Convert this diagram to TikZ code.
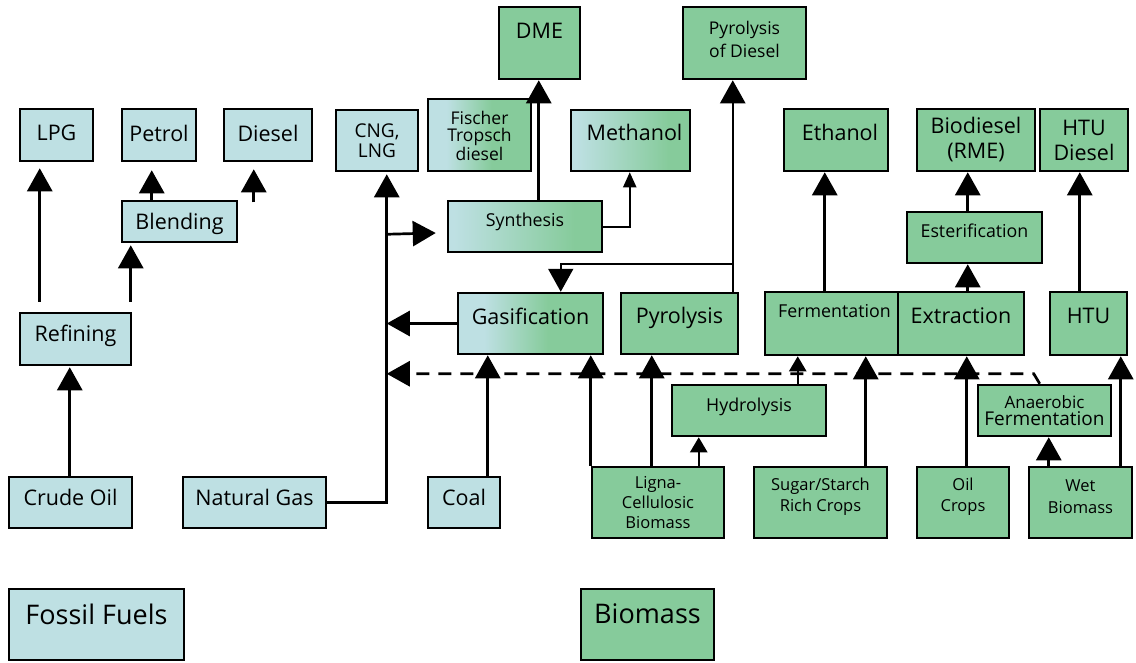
\documentclass[tikz,border=0pt]{standalone}
\usepackage{fontspec}
\setmainfont{Open Sans}
\usetikzlibrary{arrows.meta,calc,fit}
\definecolor{fbl}{HTML}{BEE0E3}
\definecolor{bgr}{HTML}{86CB9B}
\pgfdeclarehorizontalshading{gradA}{100bp}{color(0bp)=(fbl); color(34bp)=(fbl); color(56bp)=(bgr); color(100bp)=(bgr)}
\pgfdeclarehorizontalshading{gradB}{100bp}{color(0bp)=(fbl); color(27bp)=(fbl); color(66bp)=(bgr); color(100bp)=(bgr)}
\newcommand\bx[8]{%
  \node[#2,fit={(#3,#4)(#5,#6)}] (#1) {};
  \node[lbl,#7] (#1-t) at (#1.center) {#8};}
\tikzset{
  box/.style={draw=black, line width=2.5pt, inner sep=0pt},
  fos/.style={box, fill=fbl},
  bio/.style={box, fill=bgr},
  mixA/.style={box, shade, shading=gradA},
  mixB/.style={box, shade, shading=gradB},
  lbl/.style={inner sep=0pt, align=center, text=black},
  fN/.style={font=\fontsize{21.5}{24}\selectfont},
  fD/.style={font=\fontsize{21.5}{25}\selectfont},
  fC/.style={font=\fontsize{19}{20}\selectfont},
  fF/.style={font=\fontsize{17.5}{17}\selectfont},
  fP/.style={font=\fontsize{17.5}{23}\selectfont},
  fM/.style={font=\fontsize{17.8}{20}\selectfont},
  fS/.style={font=\fontsize{16.5}{21.5}\selectfont},
  fL/.style={font=\fontsize{16.5}{20}\selectfont},
  fA/.style={font=\fontsize{19}{17}\selectfont},
  fB/.style={font=\fontsize{27}{30}\selectfont},
  arr/.style={line width=2.7pt, -{Triangle[width=25pt,length=23pt]}},
  sarr/.style={line width=2.4pt, -{Triangle[width=17pt,length=15pt]}},
  tarr/.style={line width=2pt, -{Triangle[width=13pt,length=15pt]}},
  marr/.style={line width=2.3pt, -{Triangle[width=25pt,length=23pt]}},
  darr/.style={arr, dash pattern=on 13pt off 9pt},
}
\begin{document}
\begin{tikzpicture}[x=1pt,y=-1pt]
\useasboundingbox (0,0) rectangle (1136,662);
% boxes
\bx{lpg}{fos}{20}{109}{93}{161}{fN,yshift=2pt}{LPG}
\bx{petrol}{fos}{122}{109}{196}{161}{fN,yshift=2pt}{Petrol}
\bx{diesel}{fos}{224}{109}{312}{161}{fN,yshift=2pt}{Diesel}
\bx{cng}{fos}{336}{110}{418}{171}{fC}{CNG,\\LNG}
\bx{fischer}{mixA}{428}{99}{531}{171}{fF,yshift=-1pt}{Fischer\\Tropsch\\diesel}
\bx{dme}{bio}{499}{7}{580}{79}{fN,yshift=12pt}{DME}
\bx{pdiesel}{bio}{683}{7}{806}{79}{fP,yshift=4pt}{Pyrolysis\\of Diesel}
\bx{methanol}{mixB}{571}{110}{690}{171}{fN,yshift=8pt,xshift=4pt}{Methanol}
\bx{blending}{fos}{122}{201}{237}{242}{fN,yshift=-2pt}{Blending}
\bx{synthesis}{mixB}{448}{201}{602}{252}{fM,yshift=5pt}{Synthesis}
\bx{ethanol}{bio}{784}{109}{888}{171}{fN,yshift=8pt,xshift=4pt}{Ethanol}
\bx{biodiesel}{bio}{917}{109}{1035}{171}{fD}{Biodiesel\\(RME)}
\bx{htudiesel}{bio}{1040}{109}{1128}{171}{fD}{HTU\\Diesel}
\bx{ester}{bio}{907}{212}{1042}{263}{fM,yshift=7pt}{Esterification}
\bx{refining}{fos}{20}{313}{131}{365}{fN,yshift=3pt}{Refining}
\bx{gasif}{mixA}{458}{293}{603}{354}{fN,yshift=7pt}{Gasification}
\bx{pyrolysis}{bio}{621}{293}{738}{354}{fN,yshift=6pt}{Pyrolysis}
\bx{ferment}{bio}{765}{292}{898}{355}{fM,yshift=12pt,xshift=3pt}{Fermentation}
\bx{extract}{bio}{898}{292}{1024}{355}{fN,yshift=8pt}{Extraction}
\bx{htu}{bio}{1050}{292}{1127}{355}{fN,yshift=8pt}{HTU}
\bx{hydro}{bio}{672}{385}{826}{436}{fM,yshift=4pt}{Hydrolysis}
\bx{anaer}{bio}{978}{385}{1111}{436}{fA}{{\fontsize{17}{17}\selectfont Anaerobic}\\Fermentation}
\bx{crude}{fos}{9}{477}{132}{528}{fN,yshift=5pt}{Crude Oil}
\bx{natgas}{fos}{183}{477}{326}{528}{fN,yshift=5pt}{Natural Gas}
\bx{coal}{fos}{428}{477}{500}{528}{fN,yshift=5pt}{Coal}
\bx{ligna}{bio}{592}{467}{724}{538}{fL}{Ligna-\\Cellulosic\\Biomass}
\bx{sugar}{bio}{754}{467}{887}{538}{fS,yshift=6pt}{Sugar/Starch\\Rich Crops}
\bx{oil}{bio}{917}{467}{1009}{538}{fS,yshift=6pt}{Oil\\Crops}
\bx{wet}{bio}{1029}{467}{1132}{538}{fS,yshift=6pt}{Wet\\Biomass}
\bx{fossil}{fos}{9}{589}{184}{660}{fB,yshift=10pt}{Fossil Fuels}
\bx{biomass}{bio}{581}{589}{714}{660}{fB,yshift=11pt}{Biomass}
% ports
\coordinate (trunk) at ($(cng.south west)+(52,0)$);
\coordinate (brS) at ($(trunk)+(0,62)$);
\coordinate (anS) at ($(anaer.north west)+(63,0)$);
\coordinate (anK) at ($(anaer.north west)+(57,-10)$);
\coordinate (rf1) at ($(refining.north west)+(21,-10)$);
\coordinate (rf2) at ($(refining.north west)+(112,-10)$);
\coordinate (bl1) at ($(blending.north west)+(31,0)$);
\coordinate (ds1) at ($(diesel.south west)+(31,40)$);
\coordinate (cr1) at ($(crude.north west)+(62,0)$);
\coordinate (co1) at ($(coal.north west)+(61,0)$);
\coordinate (lg2) at ($(ligna.north west)+(61,0)$);
\coordinate (lg3) at ($(ligna.north west)+(108,0)$);
\coordinate (hy1) at ($(hydro.north west)+(127,0)$);
\coordinate (su1) at ($(sugar.north west)+(113,0)$);
\coordinate (fe1) at ($(ferment.north west)+(61,0)$);
\coordinate (oi1) at ($(oil.north west)+(51,0)$);
\coordinate (ex1) at ($(extract.north west)+(71,0)$);
\coordinate (es1) at ($(ester.north west)+(62,0)$);
\coordinate (we1) at ($(wet.north west)+(21,0)$);
\coordinate (we2) at ($(wet.north west)+(93,0)$);
\coordinate (ht1) at ($(htu.north west)+(31,0)$);
\coordinate (sy1) at ($(synthesis.north west)+(92,0)$);
\coordinate (me1) at ($(methanol.south west)+(60,0)$);
\coordinate (py1) at ($(pyrolysis.north west)+(113,0)$);
\coordinate (py2) at ($(pyrolysis.north west)+(113,-28)$);
\coordinate (ga1) at ($(gasif.north west)+(104,0)$);
% connectors
\draw[arr, shorten >=2pt] (natgas.east) -| (trunk);
\draw[arr] (brS) -- ($(synthesis.west)+(-11,6.5)$);
\draw[arr] (gasif.west) -- (gasif.west -| trunk);
\draw[darr] (anS) -- (anK) -- (anK -| trunk);
\draw[arr, shorten >=6pt] (rf1) -- (rf1 |- lpg.south);
\draw[arr, shorten >=2pt] (rf2) -- (rf2 |- blending.south);
\draw[arr, shorten >=8pt] (bl1) -- (bl1 |- petrol.south);
\draw[arr, shorten >=7pt] (ds1) -- (ds1 |- diesel.south);
\draw[arr, shorten >=1pt] (cr1) -- (cr1 |- refining.south);
\draw[arr] (co1) -- (co1 |- gasif.south);
\draw[arr] (ligna.north west) -- (ligna.north west |- gasif.south);
\draw[arr] (lg2) -- (lg2 |- pyrolysis.south);
\draw[sarr] (lg3) -- (lg3 |- hydro.south);
\draw[sarr] (hy1) -- (hy1 |- ferment.south);
\draw[arr] (su1) -- (su1 |- ferment.south);
\draw[arr] (fe1) -- (fe1 |- ethanol.south);
\draw[arr] (oi1) -- (oi1 |- extract.south);
\draw[arr] (ex1) -- (ex1 |- ester.south);
\draw[arr] (es1) -- (es1 |- biodiesel.south);
\draw[arr] (we1) -- (we1 |- anaer.south);
\draw[arr] (we2) -- (we2 |- htu.south);
\draw[arr] (ht1) -- (ht1 |- htudiesel.south);
\draw[arr] (sy1) -- (sy1 |- dme.south);
\draw[tarr] (synthesis.east) -| (me1);
\draw[marr] (py1) -- (py1 |- pdiesel.south);
\draw[marr, line width=2pt] (py2) -| (ga1);
\end{tikzpicture}
\end{document}
